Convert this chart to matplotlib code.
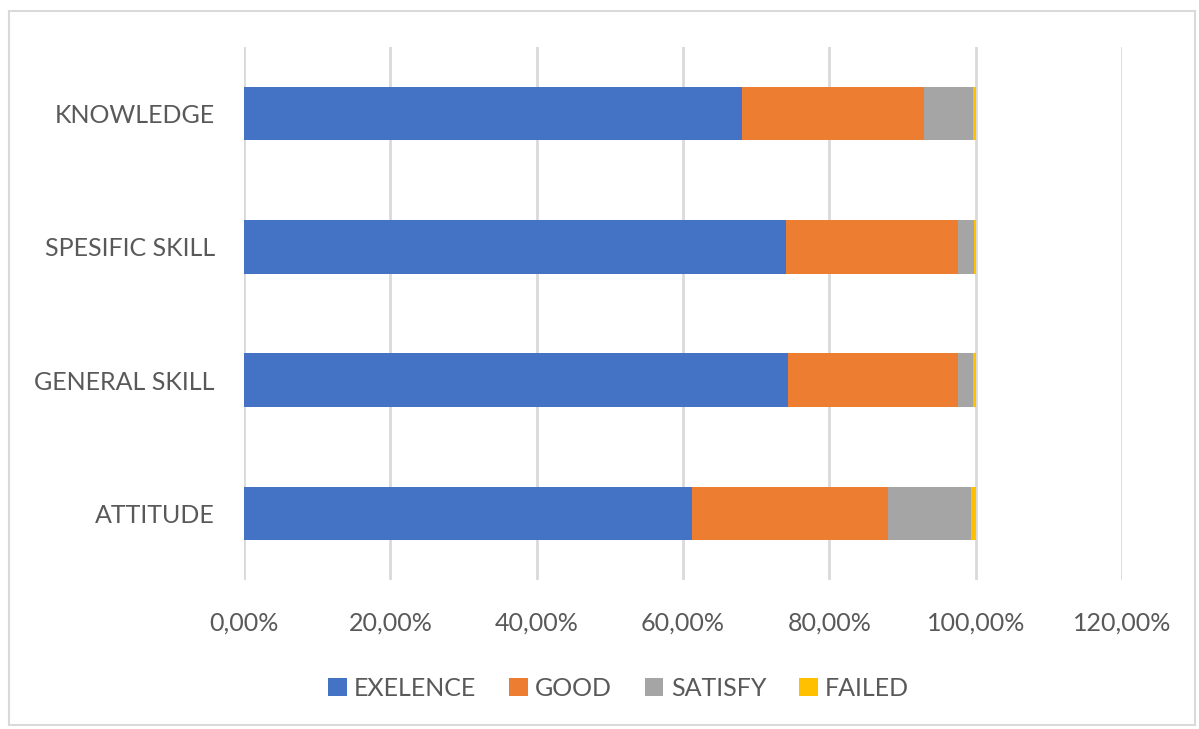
import matplotlib.pyplot as plt
from matplotlib.patches import Rectangle
import numpy as np

categories = ['ATTITUDE', 'GENERAL SKILL', 'SPESIFIC SKILL', 'KNOWLEDGE']
exelence = [61.2, 74.3, 74.1, 68.1]
good = [26.8, 23.3, 23.5, 24.8]
satisfy = [11.3, 2.1, 2.2, 6.8]
failed = [0.7, 0.3, 0.2, 0.3]

series = [('EXELENCE', exelence, '#4472C4'),
          ('GOOD', good, '#ED7D31'),
          ('SATISFY', satisfy, '#A5A5A5'),
          ('FAILED', failed, '#FFC000')]

plt.rcParams['font.family'] = ['Lato', 'DejaVu Sans']

fig = plt.figure(figsize=(11.99, 7.29), dpi=100)
ax = fig.add_axes([0.2035, 0.2044, 0.7323, 0.7311])

y = np.arange(len(categories))
left = np.zeros(len(categories))
for name, vals, col in series:
  vals = np.array(vals)
  ax.barh(y, vals, left=left, height=0.4, color=col, label=name, zorder=3)
  left += vals

ax.set_xlim(0, 120)
ax.set_ylim(-0.5, 3.5)
ax.set_yticks(y)
ax.set_yticklabels(categories)
xt = np.arange(0, 121, 20)
ax.set_xticks(xt)
ax.set_xticklabels([('%.2f%%' % v).replace('.', ',') for v in xt])
ax.tick_params(axis='both', length=0, labelsize=18, labelcolor='#595959')
ax.tick_params(axis='y', pad=21)
ax.tick_params(axis='x', pad=23)
ax.grid(axis='x', color='#d9d9d9', linewidth=2, zorder=0)
for s in ax.spines.values():
  s.set_visible(False)

fig.legend(loc='center', bbox_to_anchor=(0.516, 1 - 688 / 729), ncol=4,
           frameon=False, fontsize=18, labelcolor='#595959',
           handlelength=0.75, handleheight=0.75, handletextpad=0.3,
           columnspacing=1.3)

fig.patches.append(Rectangle((9 / 1199, 4 / 729), 1186 / 1199, 714 / 729,
                             transform=fig.transFigure, fill=False,
                             edgecolor='#d9d9d9', linewidth=1.5))

fig.savefig('out.png', dpi=100)
